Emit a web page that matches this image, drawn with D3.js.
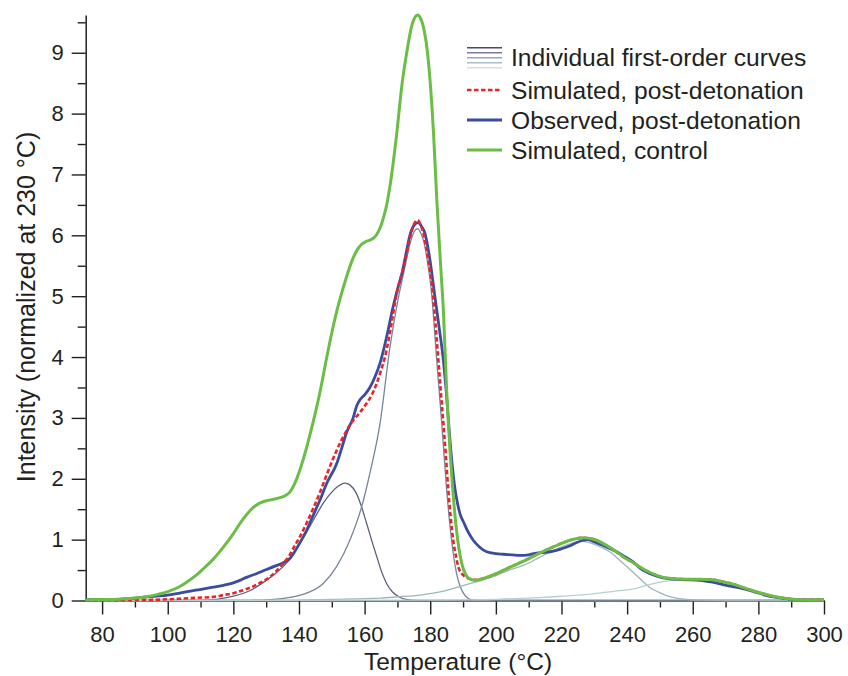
<!DOCTYPE html>
<html>
<head>
<meta charset="utf-8">
<script src="https://cdn.jsdelivr.net/npm/d3@7"></script>
<style>
  body { margin: 0; background: #fff; }
  text { font-family: "Liberation Sans", Arial, Helvetica, sans-serif; fill: #231f20; }
</style>
</head>
<body>
<div id="chart"></div>
<script>
// Width and height
var w = 848;
var h = 676;

// Data: [temperature, intensity]
var observedPost = [
	[75,0.01],[80,0.015],[85,0.02],[88.5,0.03],[92,0.05],[96,0.07],[100,0.09],[103.7,0.12],[106.5,0.15],
	[109.8,0.18],[113,0.21],[117,0.25],[120,0.29],[122,0.33],[124,0.38],[127,0.44],[130.1,0.51],[132.5,0.56],
	[135.2,0.62],[137.2,0.69],[138.3,0.77],[140.3,0.95],[142.3,1.15],[144.5,1.42],[146.4,1.65],
	[148.5,1.93],[151.5,2.25],[153,2.5],[154.5,2.76],[156.5,3.0],[157.6,3.2],[158.6,3.3],
	[160,3.38],[161.6,3.5],[163.2,3.68],[164.7,3.9],[166.7,4.33],[168.7,4.83],
	[170.2,5.15],[171.5,5.4],[172.8,5.75],[173.8,6.0],[175,6.16],[176.3,6.21],[177.3,6.15],[178.4,6.03],
	[179.9,5.6],[181.4,5.0],[182.8,4.45],[184,3.95],[185,3.35],[186,2.64],[187.5,1.85],[188.3,1.6],
	[189.1,1.42],[190.3,1.27],[191.5,1.13],[193.1,0.99],[195,0.88],[197.2,0.8],[200,0.77],[202.3,0.76],
	[205,0.75],[207.3,0.74],[210,0.75],[212.4,0.78],[215,0.79],[217.5,0.81],[220,0.85],[222.6,0.9],
	[224.5,0.95],[226.6,0.99],[228,1.0],[229.7,0.97],[232,0.92],[234.5,0.86],[236.8,0.8],[239,0.73],
	[241.9,0.63],[244,0.53],[245.9,0.47],[248,0.42],[251,0.37],[254,0.35],[258,0.34],[262.2,0.33],
	[266,0.3],[270.3,0.25],[274,0.21],[278.4,0.15],[282,0.09],[285.5,0.05],[290,0.02],[295,0.01],[300,0.01]
];

var simulatedPost = [
	[75,0],[85,0.005],[95,0.01],[103.7,0.03],[109,0.045],[113.9,0.06],[117,0.09],[120,0.12],[123,0.17],
	[126,0.23],[128.5,0.3],[131.2,0.39],[133.2,0.49],[135.2,0.61],[137.2,0.75],[138.3,0.86],[140.3,1.05],
	[142.3,1.27],[144.4,1.52],[146.4,1.78],[148.4,2.06],[150,2.28],[151.5,2.47],[153,2.64],
	[154.5,2.79],[156,2.92],[157.5,3.02],[159,3.12],[160.6,3.24],[162.2,3.38],[163.7,3.57],[165,3.78],
	[166.2,4.0],[167.2,4.25],[168.2,4.55],[169.8,5.05],[171,5.3],[172.3,5.58],[173.8,5.95],[175,6.18],
	[176.2,6.25],[177,6.18],[177.9,6.03],[179.4,5.59],[180.9,5.0],[181.6,4.55],[182.4,4.0],[183.2,3.45],
	[184,2.91],[184.8,2.35],[185.5,1.82],[186.2,1.38],[187,0.99],[187.8,0.74],[188.5,0.56],[189.5,0.45],
	[190.6,0.39],[192.6,0.35],[194,0.34],[196,0.36],[199.2,0.42],[204,0.54],[209.4,0.67],[213,0.77],
	[217.5,0.88],[222.6,0.99],[226.6,1.03],[230.7,0.99],[233.5,0.91],[236.8,0.8],[239,0.71],[241.9,0.62],
	[244.5,0.53],[247,0.46],[252,0.37],[258.1,0.35],[262,0.35],[266.2,0.34],[269,0.31],[272.3,0.27],
	[275,0.22],[278.4,0.16],[281.5,0.11],[284.5,0.07],[287.5,0.04],[290.6,0.02],[295,0.01],[300,0.01]
];

var simulatedControl = [
	[75,0.01],[80,0.015],[85,0.02],[90,0.04],[93.5,0.06],[97,0.1],[100,0.145],[103.7,0.23],[106,0.31],
	[108.8,0.42],[111,0.53],[113.9,0.68],[117,0.88],[120,1.1],[123,1.34],[125.5,1.5],[128,1.6],[130,1.64],
	[132,1.66],[134.2,1.69],[136,1.73],[137.2,1.78],[138.5,1.9],[140.3,2.15],[142.5,2.55],[144.4,2.95],
	[146.5,3.45],[148.4,3.98],[150,4.4],[151.5,4.75],[153,5.05],[154.5,5.32],[156,5.56],[157.5,5.74],
	[159,5.85],[160.5,5.9],[162,5.93],[163.5,6.0],[164.7,6.12],[165.8,6.3],[166.8,6.52],
	[167.7,6.8],[169.8,7.68],[171.3,8.44],[172.8,8.99],[174.3,9.43],[175.3,9.58],[176.2,9.62],[177,9.57],
	[177.9,9.43],[179.4,8.88],[181,7.68],[182,6.58],[183.2,5.48],[184,4.77],[185,3.46],[186.5,2.09],
	[188,1.16],[189.6,0.61],[190.6,0.45],[191.6,0.37],[193.6,0.33],[196,0.36],[199.2,0.42],[204,0.54],
	[209.4,0.67],[213,0.77],[217.5,0.88],[222.6,0.99],[226.6,1.03],[230.7,0.99],[233.5,0.91],[236.8,0.8],
	[239,0.71],[241.9,0.62],[244.5,0.53],[247,0.46],[252,0.37],[258.1,0.35],[262,0.35],[266.2,0.34],
	[269,0.31],[272.3,0.27],[275,0.22],[278.4,0.16],[281.5,0.11],[284.5,0.07],[287.5,0.04],[290.6,0.02],
	[295,0.01],[300,0.01]
];

// Individual first-order curves
var peak1 = [
	[100,0],[110,0.005],[115,0.02],[120,0.07],[125,0.16],[130,0.33],[133,0.45],[135.2,0.56],[137.2,0.68],
	[140,0.92],[142.3,1.12],[145,1.38],[147.4,1.6],[150,1.78],[152,1.88],[154,1.93],[155.5,1.9],
	[157.5,1.76],[159,1.55],[160.6,1.27],[162.2,0.98],[163.7,0.72],[165.2,0.47],[166.7,0.28],[168.5,0.14],
	[170.8,0.05],[173,0.015],[176,0.003],[180,0],[300,0]
];
var peak2 = [
	[75,0],[120,0],[125,0.003],[130,0.01],[137.2,0.05],[142.3,0.12],[147.4,0.28],[151.5,0.56],[155.5,0.99],
	[159.1,1.54],[161.6,2.09],[164.7,2.91],[167.7,4.15],[170.2,4.95],[172.3,5.48],[173.8,5.85],[175,6.05],
	[176.2,6.11],[177,6.05],[177.9,5.92],[179.4,5.48],[180.4,5.05],[181.9,4.0],[183.5,2.91],[185,1.82],
	[186.5,0.99],[188,0.45],[189,0.25],[190,0.13],[191.2,0.05],[192.6,0.01],[195,0],[300,0]
];
var peak3 = [
	[75,0],[130,0.005],[150,0.02],[165,0.04],[170,0.06],[177,0.09],[183,0.14],[189,0.23],[193.6,0.3],
	[199.2,0.39],[204,0.5],[209.4,0.6],[213,0.7],[217.5,0.82],[222.6,0.93],[226.1,0.97],[228.5,0.95],
	[230.7,0.91],[234.7,0.8],[238,0.65],[241.9,0.46],[244.5,0.33],[247,0.21],[249.5,0.14],[252,0.08],
	[255,0.04],[258,0.02],[262,0.005],[270,0],[300,0]
];
var peak4 = [
	[75,0],[180,0.005],[195,0.01],[200,0.02],[210,0.04],[220,0.07],[229.7,0.11],[236,0.15],[241.9,0.19],
	[246,0.25],[249,0.29],[252,0.32],[255,0.34],[258,0.35],[262,0.35],[266.2,0.33],[269,0.31],[272.3,0.27],
	[275,0.22],[278.4,0.16],[281.5,0.11],[284.5,0.07],[287.5,0.04],[290.6,0.02],[295,0.007],[300,0.003]
];

var peaks = [peak1, peak2, peak3, peak4];
var peakColors = ["#5b5f7c", "#76859a", "#9db6bb", "#b9d0d0"];
var legendShades = ["#4b4a66", "#777d98", "#98a6ba", "#a9c0c6", "#d2e3df"];

var xMajor = d3.range(80, 301, 20);
var xMinor = d3.range(90, 300, 20);
var yMajor = d3.range(0, 10, 1);
var yMinor = d3.range(0.5, 10, 1);

var legendLabels = ["Individual first-order curves", "Simulated, post-detonation",
	"Observed, post-detonation", "Simulated, control"];

// Scales
var x = d3.scaleLinear().domain([75, 300]).range([85.7, 824]);
var y = d3.scaleLinear().domain([0, 9.62]).range([600.5, 15]);

var svg = d3.select("#chart")
	.append("svg")
	.attr("width", w)
	.attr("height", h);

var line = d3.line()
	.x(function(d) { return x(d[0]); })
	.y(function(d) { return y(d[1]); })
	.curve(d3.curveMonotoneX);

// Minor ticks first, no labels
svg.append("g")
	.attr("transform", "translate(0," + y(0) + ")")
	.call(d3.axisBottom(x).tickValues(xMinor).tickSize(7).tickFormat(""))
	.call(function(g) { g.select(".domain").remove(); });

svg.append("g")
	.attr("transform", "translate(" + x(75) + ",0)")
	.call(d3.axisLeft(y).tickValues(yMinor).tickSize(8).tickFormat(""))
	.call(function(g) { g.select(".domain").remove(); });

// Major axes
var xAxis = svg.append("g")
	.attr("transform", "translate(0," + y(0) + ")")
	.call(d3.axisBottom(x).tickValues(xMajor).tickSize(14).tickSizeOuter(0).tickPadding(12));

var yAxis = svg.append("g")
	.attr("transform", "translate(" + x(75) + ",0)")
	.call(d3.axisLeft(y).tickValues(yMajor).tickSize(14).tickSizeOuter(0).tickPadding(8)
		.tickFormat(d3.format("d")));

svg.selectAll(".tick line").attr("stroke", "#231f20").attr("stroke-width", 1.4);
svg.selectAll(".domain").attr("stroke", "#231f20").attr("stroke-width", 1.5);
xAxis.select(".domain").attr("stroke", "#6f7b88").attr("stroke-width", 2);
svg.selectAll(".tick text").style("font-size", "22px").attr("fill", "#231f20");

// Individual curves
svg.selectAll(".peak")
	.data(peaks)
	.enter()
	.append("path")
	.attr("class", "peak")
	.attr("d", line)
	.attr("fill", "none")
	.attr("stroke", function(d, i) { return peakColors[i]; })
	.attr("stroke-width", 1.3);

// Observed
svg.append("path")
	.datum(observedPost)
	.attr("d", line)
	.attr("fill", "none")
	.attr("stroke", "#3a4ca0")
	.attr("stroke-width", 2.8);

// Simulated post-detonation (dashed)
svg.append("path")
	.datum(simulatedPost)
	.attr("d", line)
	.attr("fill", "none")
	.attr("stroke", "#ec2227")
	.attr("stroke-width", 2.6)
	.attr("stroke-dasharray", "4.5,2.5");

// Simulated control
svg.append("path")
	.datum(simulatedControl)
	.attr("d", line)
	.attr("fill", "none")
	.attr("stroke", "#6abd45")
	.attr("stroke-width", 3);

// Axis titles
svg.append("text")
	.attr("x", 458)
	.attr("y", 670)
	.attr("text-anchor", "middle")
	.style("font-size", "24.5px")
	.text("Temperature (°C)");

svg.append("text")
	.attr("transform", "translate(35,307) rotate(-90)")
	.attr("text-anchor", "middle")
	.style("font-size", "25px")
	.text("Intensity (normalized at 230 °C)");

// Legend
var legend = svg.append("g");
var rowY = [57.5, 90, 120, 150];

legend.selectAll(".shade")
	.data(legendShades)
	.enter()
	.append("line")
	.attr("x1", 467).attr("x2", 502)
	.attr("y1", function(d, i) { return 47.7 + i * 5; })
	.attr("y2", function(d, i) { return 47.7 + i * 5; })
	.attr("stroke", function(d) { return d; })
	.attr("stroke-width", 1.6);

legend.append("line")
	.attr("x1", 467).attr("x2", 502).attr("y1", rowY[1]).attr("y2", rowY[1])
	.attr("stroke", "#ec2227").attr("stroke-width", 2.6).attr("stroke-dasharray", "4.5,2.5");
legend.append("line")
	.attr("x1", 467).attr("x2", 502).attr("y1", rowY[2]).attr("y2", rowY[2])
	.attr("stroke", "#3a4ca0").attr("stroke-width", 2.8);
legend.append("line")
	.attr("x1", 467).attr("x2", 502).attr("y1", rowY[3]).attr("y2", rowY[3])
	.attr("stroke", "#6abd45").attr("stroke-width", 3);

legend.selectAll(".label")
	.data(legendLabels)
	.enter()
	.append("text")
	.attr("class", "label")
	.attr("x", 511)
	.attr("y", function(d, i) { return rowY[i] + 8.8; })
	.style("font-size", "24.6px")
	.text(function(d) { return d; });
</script>
</body>
</html>
